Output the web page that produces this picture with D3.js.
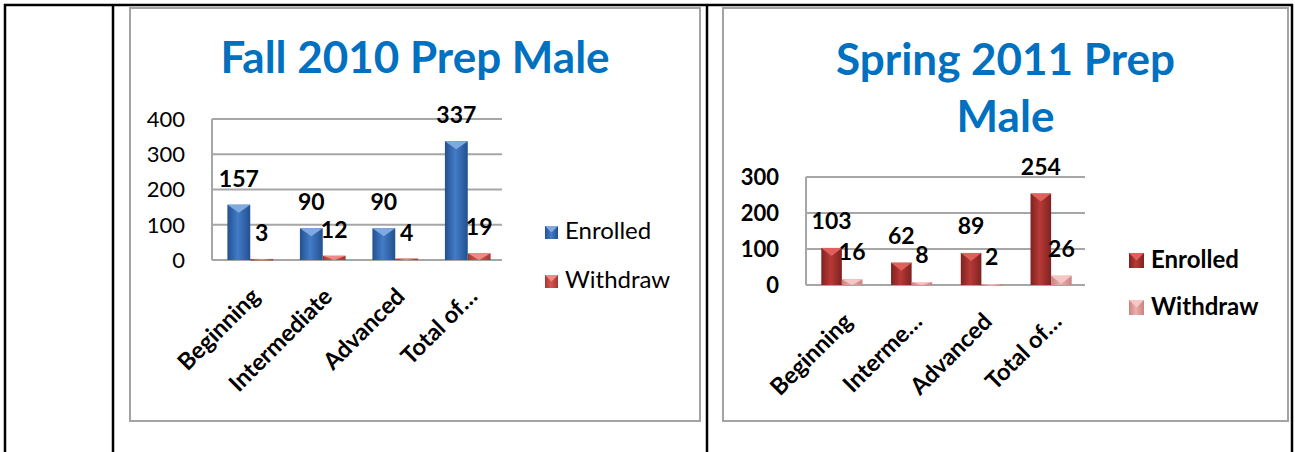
<!DOCTYPE html>
<html>
<head>
<meta charset="utf-8">
<script src="https://cdn.jsdelivr.net/npm/d3@7"></script>
<style>
  html, body { margin: 0; padding: 0; background: #fff; }
  svg { display: block; font-family: Lato, "Open Sans", sans-serif; }
</style>
</head>
<body>
<svg id="chart" width="1295" height="452"></svg>
<script>
// data
const series = ["Enrolled", "Withdraw"];
const fallCategories = ["Beginning", "Intermediate", "Advanced", "Total of\u2026"];
const fallEnrolled = [157, 90, 90, 337];
const fallWithdraw = [3, 12, 4, 19];
const fallTicks = [0, 100, 200, 300, 400];

const springCategories = ["Beginning", "Interme\u2026", "Advanced", "Total of\u2026"];
const springEnrolled = [103, 62, 89, 254];
const springWithdraw = [16, 8, 2, 26];
const springTicks = [0, 100, 200, 300];

const svg = d3.select("#chart");
const defs = svg.append("defs");

// horizontal gradient: dark edges, lighter middle (3D look)
function makeGrad(id, edge, mid) {
    const g = defs.append("linearGradient").attr("id", id)
        .attr("x1", "0%").attr("x2", "100%").attr("y1", "0%").attr("y2", "0%");
    g.append("stop").attr("offset", "0%").attr("stop-color", edge);
    g.append("stop").attr("offset", "45%").attr("stop-color", mid);
    g.append("stop").attr("offset", "100%").attr("stop-color", edge);
}
makeGrad("blue", "#22508f", "#437cc8");
makeGrad("red", "#a33633", "#d75652");
makeGrad("dred", "#7e2220", "#b83a37");
makeGrad("pink", "#c98381", "#eaafad");

// table borders
const table = svg.append("g").attr("stroke", "#000").attr("stroke-width", 2.5);
table.append("line").attr("x1", 4).attr("x2", 1293).attr("y1", 5).attr("y2", 5);
[5, 113, 707, 1292].forEach(x =>
    table.append("line").attr("x1", x).attr("x2", x).attr("y1", 4).attr("y2", 452));

function drawChart(o) {
    const g = svg.append("g");

    // chart frame
    g.append("rect")
        .attr("x", o.frame[0]).attr("y", o.frame[1])
        .attr("width", o.frame[2] - o.frame[0]).attr("height", o.frame[3] - o.frame[1])
        .attr("fill", "#fff").attr("stroke", "#a3a3a3").attr("stroke-width", 2);

    // title
    const cx = (o.frame[0] + o.frame[2]) / 2;
    o.title.forEach((t, i) => {
        g.append("text")
            .attr("x", cx).attr("y", o.titleY + i * 57)
            .attr("text-anchor", "middle")
            .attr("font-size", 44).attr("font-weight", "bold")
            .attr("fill", "#0070c0")
            .text(t);
    });

    const y = d3.scaleLinear().domain([0, o.ticks[o.ticks.length - 1]]).range([o.plot.bottom, o.plot.top]);
    const x0 = d3.scaleBand().domain(o.categories).range([o.plot.left, o.plot.right])
        .paddingInner(o.pad).paddingOuter(o.pad / 2);
    const x1 = d3.scaleBand().domain(series).range([0, x0.bandwidth()]);

    // gridlines
    g.append("g")
        .selectAll("line")
        .data(o.ticks)
        .join("line")
        .attr("x1", o.plot.left).attr("x2", o.plot.right)
        .attr("y1", d => y(d)).attr("y2", d => y(d))
        .attr("stroke", "#a6a6a6").attr("stroke-width", 2);
    g.append("line")
        .attr("x1", o.plot.left).attr("x2", o.plot.left)
        .attr("y1", y(o.ticks[o.ticks.length - 1])).attr("y2", y(0))
        .attr("stroke", "#a6a6a6").attr("stroke-width", 2);

    // y axis labels
    g.append("g")
        .selectAll("text")
        .data(o.ticks)
        .join("text")
        .attr("x", o.plot.left - 27)
        .attr("y", d => y(d))
        .attr("dy", "0.36em")
        .attr("text-anchor", "end")
        .attr("font-size", 22)
        .attr("font-weight", o.bold ? "bold" : "normal")
        .text(d => d);

    // bars
    const rows = o.categories.map((c, i) => ({ cat: c, values: [o.enrolled[i], o.withdraw[i]] }));
    const groups = g.append("g")
        .selectAll("g")
        .data(rows)
        .join("g")
        .attr("transform", d => `translate(${x0(d.cat) + o.shift},0)`);

    const bars = groups.selectAll("g")
        .data(d => d.values.map((v, j) => ({ key: series[j], value: v, j })))
        .join("g");

    const bw = x1.bandwidth();
    bars.append("rect")
        .attr("x", d => x1(d.key))
        .attr("y", d => y(d.value))
        .attr("width", bw)
        .attr("height", d => Math.max(1.5, y(0) - y(d.value)))
        .attr("fill", d => `url(#${o.grads[d.j]})`);
    bars.append("path")
        .attr("d", d => {
            const xl = x1(d.key), top = y(d.value);
            const h = Math.min(8, y(0) - top);
            return `M${xl},${top}L${xl + bw},${top}L${xl + bw / 2},${top + h}Z`;
        })
        .attr("fill", d => o.tops[d.j]);

    // data labels
    bars.append("text")
        .attr("x", d => x1(d.key) + bw / 2)
        .attr("y", d => y(d.value) - o.labelGap)
        .attr("text-anchor", "middle")
        .attr("font-size", 23).attr("font-weight", "bold")
        .text(d => d.value);

    // category labels
    g.append("g")
        .selectAll("text")
        .data(o.categories)
        .join("text")
        .attr("transform", d => `translate(${x0(d) + x0.bandwidth() / 2 + 13},${y(0) + 38}) rotate(-45)`)
        .attr("text-anchor", "end")
        .attr("font-size", 23.5).attr("font-weight", "bold")
        .text(d => d);

    // legend
    const lg = g.append("g")
        .selectAll("g")
        .data(series)
        .join("g")
        .attr("transform", (d, i) => `translate(${o.legend.x},${o.legend.y + i * o.legend.gap})`);
    lg.append("rect")
        .attr("x", 0).attr("y", -o.legend.size)
        .attr("width", o.legend.size).attr("height", o.legend.size)
        .attr("fill", (d, i) => `url(#${o.grads[i]})`);
    lg.append("path")
        .attr("d", `M0,${-o.legend.size}L${o.legend.size},${-o.legend.size}L${o.legend.size / 2},${-o.legend.size / 2}Z`)
        .attr("fill", (d, i) => o.tops[i]);
    lg.append("text")
        .attr("x", o.legend.size + 7)
        .attr("y", 0)
        .attr("font-size", 24)
        .attr("font-weight", o.bold ? "bold" : "normal")
        .text(d => d);
}

drawChart({
    frame: [130, 8, 700, 421],
    title: ["Fall 2010 Prep Male"],
    titleY: 73,
    categories: fallCategories,
    enrolled: fallEnrolled,
    withdraw: fallWithdraw,
    ticks: fallTicks,
    plot: { left: 212, right: 502, top: 119, bottom: 260 },
    pad: 0.37,
    shift: 2,
    labelGap: 18,
    grads: ["blue", "red"],
    tops: ["#7fa9df", "#ee8a86"],
    bold: false,
    legend: { x: 545, y: 239, gap: 49, size: 13 }
});

drawChart({
    frame: [723, 8, 1288, 421],
    title: ["Spring 2011 Prep", "Male"],
    titleY: 75,
    categories: springCategories,
    enrolled: springEnrolled,
    withdraw: springWithdraw,
    ticks: springTicks,
    plot: { left: 806, right: 1085, top: 177, bottom: 285 },
    pad: 0.41,
    shift: 1,
    labelGap: 19,
    grads: ["dred", "pink"],
    tops: ["#e0605c", "#f4c6c4"],
    bold: true,
    legend: { x: 1129, y: 268, gap: 47, size: 15 }
});
</script>
</body>
</html>
